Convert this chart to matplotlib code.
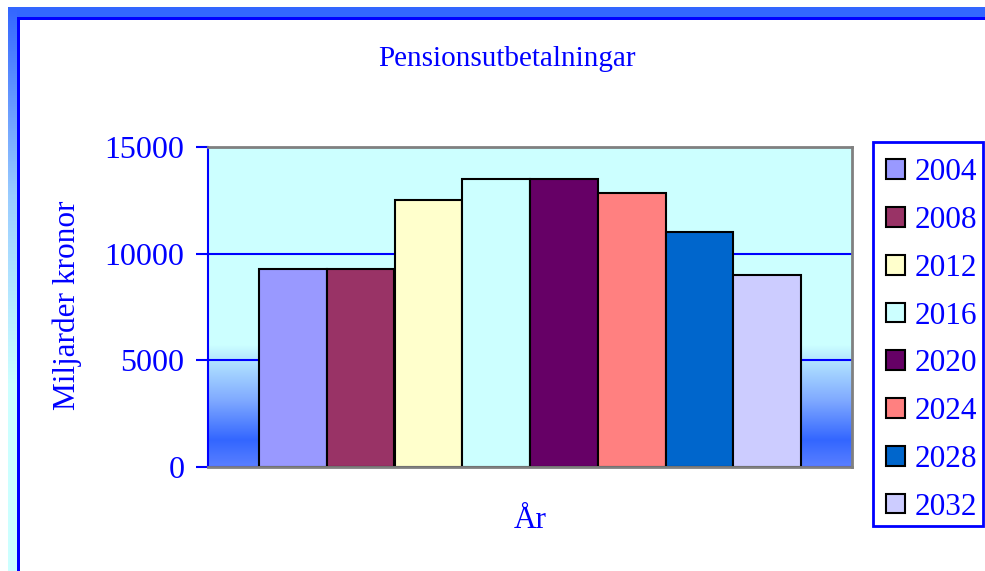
import numpy as np
import matplotlib
matplotlib.use("Agg")
import matplotlib.pyplot as plt
from matplotlib.colors import LinearSegmentedColormap
from matplotlib.patches import Rectangle

# pension payouts per year (billion SEK)
years = ["2004", "2008", "2012", "2016", "2020", "2024", "2028", "2032"]
payouts = [9300, 9300, 12500, 13500, 13500, 12850, 11000, 9000]
colors = ["#9999FF", "#993366", "#FFFFCC", "#CCFFFF",
          "#660066", "#FF8080", "#0066CC", "#CCCCFF"]
yticks = [0, 5000, 10000, 15000]

plt.rcParams["font.family"] = ["Liberation Serif", "DejaVu Serif"]
BLUE = "#0000FF"

fig = plt.figure(figsize=(9.85, 5.71), dpi=100)
W, H = 985, 571

# frame around the chart area (pixel coordinates)
bg = fig.add_axes([0, 0, 1, 1], zorder=-1)
bg.set_xlim(0, W)
bg.set_ylim(H, 0)
bg.axis("off")
bg.add_patch(Rectangle((8, 7), W - 8, 10, color="#3366FF", lw=0))
side = LinearSegmentedColormap.from_list("side", ["#3366FF", "#99CCFF", "#CCFFFF", "#CCFFFF"])
bg.imshow(np.linspace(0, 1, 256)[:, None], cmap=side, aspect="auto",
          extent=[8, 17, H, 7], zorder=1)
bg.add_patch(Rectangle((17, 17), W - 17, 2.5, color=BLUE, lw=0, zorder=2))
bg.add_patch(Rectangle((17, 17), 2.5, H - 17, color=BLUE, lw=0, zorder=2))
# legend box
bg.add_patch(Rectangle((873, 142), 110, 384, facecolor="white",
                       edgecolor=BLUE, lw=2, zorder=2))

ax = fig.add_axes([208 / W, 1 - 467 / H, 644 / W, 320 / H])
ax.set_facecolor("#CCFFFF")
xmax = 322 / 67.75
ax.set_xlim(-xmax, xmax)
ax.set_ylim(0, 15000)

# shaded band along the bottom of the plot area
band = LinearSegmentedColormap.from_list(
    "band", [(0.0, "#5A80FF"), (0.22, "#3366FF"), (0.55, "#80AAFF"),
             (0.88, "#B3E5FF"), (1.0, "#CCFFFF")])
ax.imshow(np.linspace(1, 0, 256)[:, None], cmap=band, aspect="auto",
          extent=[-xmax, xmax, 0, 5700], zorder=0)

x = np.arange(len(years)) - (len(years) - 1) / 2
for xi, val, col, lab in zip(x, payouts, colors, years):
    ax.bar(xi, val, width=1.0, color=col, edgecolor="black", linewidth=1.5,
           label=lab, zorder=2)

ax.set_axisbelow(True)
ax.yaxis.grid(True, color=BLUE, linewidth=1.5)
ax.set_yticks(yticks)
ax.set_yticklabels([str(v) for v in yticks])
ax.set_xticks([])
ax.tick_params(axis="y", colors=BLUE, labelcolor=BLUE, labelsize=23,
               length=9, width=1.5, direction="out", pad=8)
for s in ["top", "right", "bottom"]:
    ax.spines[s].set_color("#808080")
    ax.spines[s].set_linewidth(2)
ax.spines["left"].set_color(BLUE)
ax.spines["left"].set_linewidth(1.5)

fig.text(507 / W, 1 - 59 / H, "Pensionsutbetalningar", color=BLUE,
         fontsize=21, ha="center", va="center")
fig.text(67 / W, 1 - 305 / H, "Miljarder kronor", color=BLUE,
         fontsize=22.5, rotation=90, ha="center", va="center")
fig.text(530 / W, 1 - 521 / H, "År", color=BLUE,
         fontsize=22.5, ha="center", va="center")

leg = ax.legend(loc="upper left", bbox_to_anchor=(876 / W, 1 - 148 / H),
                bbox_transform=fig.transFigure, borderaxespad=0,
                fontsize=22.5, labelcolor=BLUE, frameon=False,
                handlelength=0.6, handleheight=0.6, handletextpad=0.3,
                labelspacing=0.6, borderpad=0.33)

fig.savefig("out.png", dpi=100)
